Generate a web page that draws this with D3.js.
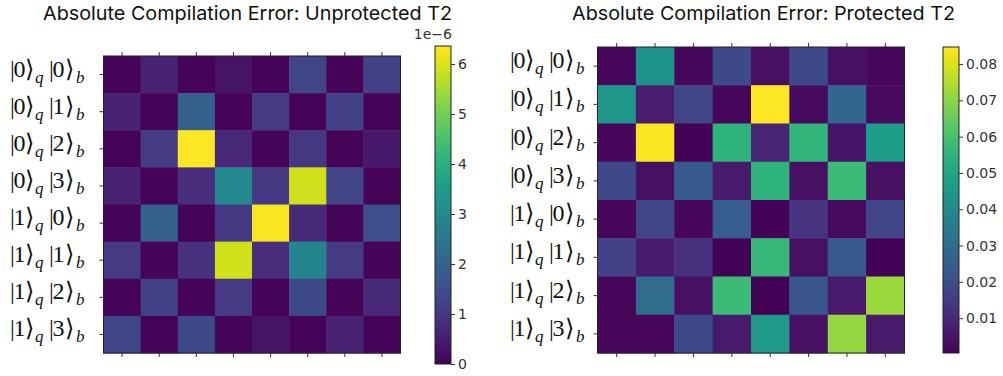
<!DOCTYPE html>
<html>
<head>
<meta charset="utf-8">
<script src="https://cdn.jsdelivr.net/npm/d3@7"></script>
<style>
  body { margin: 0; background: #fff; }
  svg { display: block; }
</style>
</head>
<body>
<div id="chart"></div>
<script>

// row / column states: |qubit>_q |boson>_b
var qubitStates = [0,0,0,0,1,1,1,1];
var bosonStates = [0,1,2,3,0,1,2,3];

// unprotected T2, in units of 1e-6
var unprotected = [
  [0.05, 0.6, 0.05, 0.3, 0.05, 1.3, 0.05, 1.2],
  [0.6, 0.05, 1.9, 0.05, 1.1, 0.05, 1.2, 0.05],
  [0.05, 1.1, 6.35, 0.7, 0.05, 1.0, 0.05, 0.4],
  [0.6, 0.05, 0.8, 3.0, 1.0, 5.9, 1.3, 0.05],
  [0.05, 1.9, 0.05, 1.0, 6.3, 0.7, 0.05, 1.5],
  [1.1, 0.05, 0.9, 5.9, 0.8, 2.9, 1.1, 0.05],
  [0.05, 1.2, 0.05, 1.1, 0.05, 1.4, 0.05, 0.7],
  [1.3, 0.05, 1.4, 0.05, 0.3, 0.05, 0.6, 0.05]
];

// protected T2
var protectedT2 = [
  [0.002, 0.043, 0.002, 0.019, 0.004, 0.019, 0.004, 0.002],
  [0.045, 0.007, 0.018, 0.002, 0.0847, 0.003, 0.028, 0.003],
  [0.002, 0.084, 0.001, 0.055, 0.009, 0.056, 0.005, 0.047],
  [0.019, 0.004, 0.024, 0.006, 0.055, 0.004, 0.058, 0.004],
  [0.002, 0.018, 0.002, 0.025, 0.001, 0.013, 0.003, 0.018],
  [0.017, 0.006, 0.012, 0.001, 0.057, 0.004, 0.024, 0.001],
  [0.002, 0.030, 0.004, 0.058, 0.001, 0.023, 0.006, 0.072],
  [0.002, 0.002, 0.019, 0.006, 0.046, 0.004, 0.071, 0.006]
];

var unprotectedTicks = [0,1,2,3,4,5,6];
var protectedTicks = [0.01,0.02,0.03,0.04,0.05,0.06,0.07,0.08];

var panels = [
  { id: "u", title: "Absolute Compilation Error: Unprotected T2", data: unprotected,
    domain: [0, 6.36], ticks: unprotectedTicks, fmt: d3.format("d"), expo: "1e\u22126",
    ox: 0, hm: {x0: 103.5, x1: 400.5, y0: 56, y1: 353}, cb: {x0: 435, x1: 451, y0: 46, y1: 364},
    titleX: 43, titleW: 409 },
  { id: "p", title: "Absolute Compilation Error: Protected T2", data: protectedT2,
    domain: [0.0004, 0.0847], ticks: protectedTicks, fmt: d3.format(".2f"), expo: null,
    ox: 500, hm: {x0: 597.5, x1: 904.5, y0: 47, y1: 353}, cb: {x0: 943, x1: 959, y0: 47, y1: 353},
    titleX: 572, titleW: 383 }
];

var svg = d3.select("#chart").append("svg")
    .attr("width", 1003)
    .attr("height", 376);

var defs = svg.append("defs");

panels.forEach(function(p){
  var g = svg.append("g");
  var idx = d3.range(8);

  var x = d3.scaleBand().domain(idx).range([p.hm.x0, p.hm.x1]);
  var y = d3.scaleBand().domain(idx).range([p.hm.y0, p.hm.y1]);
  var color = d3.scaleSequential(d3.interpolateViridis).domain(p.domain);

  // title
  g.append("text")
    .attr("x", p.titleX)
    .attr("y", 19.5)
    .attr("textLength", p.titleW)
    .attr("lengthAdjust", "spacingAndGlyphs")
    .style("font-family", "Inter, 'Noto Sans', sans-serif")
    .style("font-size", "19px")
    .style("fill", "#111")
    .text(p.title);

  // cells
  var cells = [];
  p.data.forEach(function(row, i){
    row.forEach(function(v, j){ cells.push({r: i, c: j, v: v}); });
  });
  g.selectAll(".cell")
    .data(cells)
    .enter().append("rect")
    .attr("class", "cell")
    .attr("x", function(d){ return x(d.c); })
    .attr("y", function(d){ return y(d.r); })
    .attr("width", x.bandwidth() + 0.5)
    .attr("height", y.bandwidth() + 0.5)
    .attr("fill", function(d){ return color(d.v); });

  g.append("rect")
    .attr("x", p.hm.x0).attr("y", p.hm.y0)
    .attr("width", p.hm.x1 - p.hm.x0).attr("height", p.hm.y1 - p.hm.y0)
    .attr("fill", "none").attr("stroke", "#222").attr("stroke-width", 1);

  // ticks top / bottom / left
  var axTop = g.append("g").attr("transform", "translate(0," + p.hm.y0 + ")")
    .call(d3.axisTop(x).tickSize(4).tickSizeOuter(0).tickFormat(""));
  var axBot = g.append("g").attr("transform", "translate(0," + p.hm.y1 + ")")
    .call(d3.axisBottom(x).tickSize(4).tickSizeOuter(0).tickFormat(""));
  var axLeft = g.append("g").attr("transform", "translate(" + p.hm.x0 + ",0)")
    .call(d3.axisLeft(y).tickSize(4).tickSizeOuter(0).tickFormat(""));
  [axTop, axBot, axLeft].forEach(function(a){
    a.select(".domain").remove();
    a.selectAll("line").attr("stroke", "#333");
  });

  // row labels |q>_q |b>_b
  var offs = [0, 3.5, 15, 25, 39, 42.5, 55, 66];
  var labels = g.selectAll(".rowlabel")
    .data(idx)
    .enter().append("text")
    .attr("class", "rowlabel")
    .attr("transform", function(d){ return "translate(" + (p.ox + 10) + "," + (y(d) + y.bandwidth()/2 + 2) + ")"; })
    .style("font-family", "'Liberation Serif', 'DejaVu Serif', serif")
    .style("fill", "#111");
  labels.each(function(d){
    var t = d3.select(this);
    var parts = [
      {s: "|", big: true}, {s: String(qubitStates[d]), big: true}, {s: "\u27e9", big: true}, {s: "q", big: false},
      {s: "|", big: true}, {s: String(bosonStates[d]), big: true}, {s: "\u27e9", big: true}, {s: "b", big: false}
    ];
    parts.forEach(function(pt, k){
      t.append("tspan")
        .attr("x", offs[k])
        .attr("y", pt.big ? 0 : 6)
        .style("font-size", pt.big ? "24px" : "17px")
        .style("font-style", pt.big ? "normal" : "italic")
        .style("font-family", pt.s === "\u27e9" ? "'DejaVu Serif', serif" : null)
        .text(pt.s);
    });
  });

  // colorbar
  var gid = "grad-" + p.id;
  var grad = defs.append("linearGradient").attr("id", gid)
    .attr("x1", "0").attr("y1", "1").attr("x2", "0").attr("y2", "0");
  d3.range(0, 1.0001, 0.05).forEach(function(t){
    grad.append("stop").attr("offset", t).attr("stop-color", d3.interpolateViridis(t));
  });
  g.append("rect")
    .attr("x", p.cb.x0).attr("y", p.cb.y0)
    .attr("width", p.cb.x1 - p.cb.x0).attr("height", p.cb.y1 - p.cb.y0)
    .attr("fill", "url(#" + gid + ")")
    .attr("stroke", "#222").attr("stroke-width", 1);

  var cy = d3.scaleLinear().domain(p.domain).range([p.cb.y1, p.cb.y0]);
  var cax = g.append("g").attr("transform", "translate(" + p.cb.x1 + ",0)")
    .call(d3.axisRight(cy).tickValues(p.ticks).tickSize(4).tickPadding(3).tickFormat(p.fmt));
  cax.select(".domain").remove();
  cax.selectAll("line").attr("stroke", "#333");
  cax.selectAll("text")
    .style("font-family", "'DejaVu Sans', sans-serif")
    .style("font-size", "14px")
    .style("fill", "#333");

  if (p.expo) {
    g.append("text")
      .attr("x", p.cb.x1 + 1)
      .attr("y", p.cb.y0 - 7)
      .attr("text-anchor", "end")
      .style("font-family", "'DejaVu Sans', sans-serif")
      .style("font-size", "14px")
      .style("fill", "#333")
      .text(p.expo);
  }
});
</script>
</body>
</html>
